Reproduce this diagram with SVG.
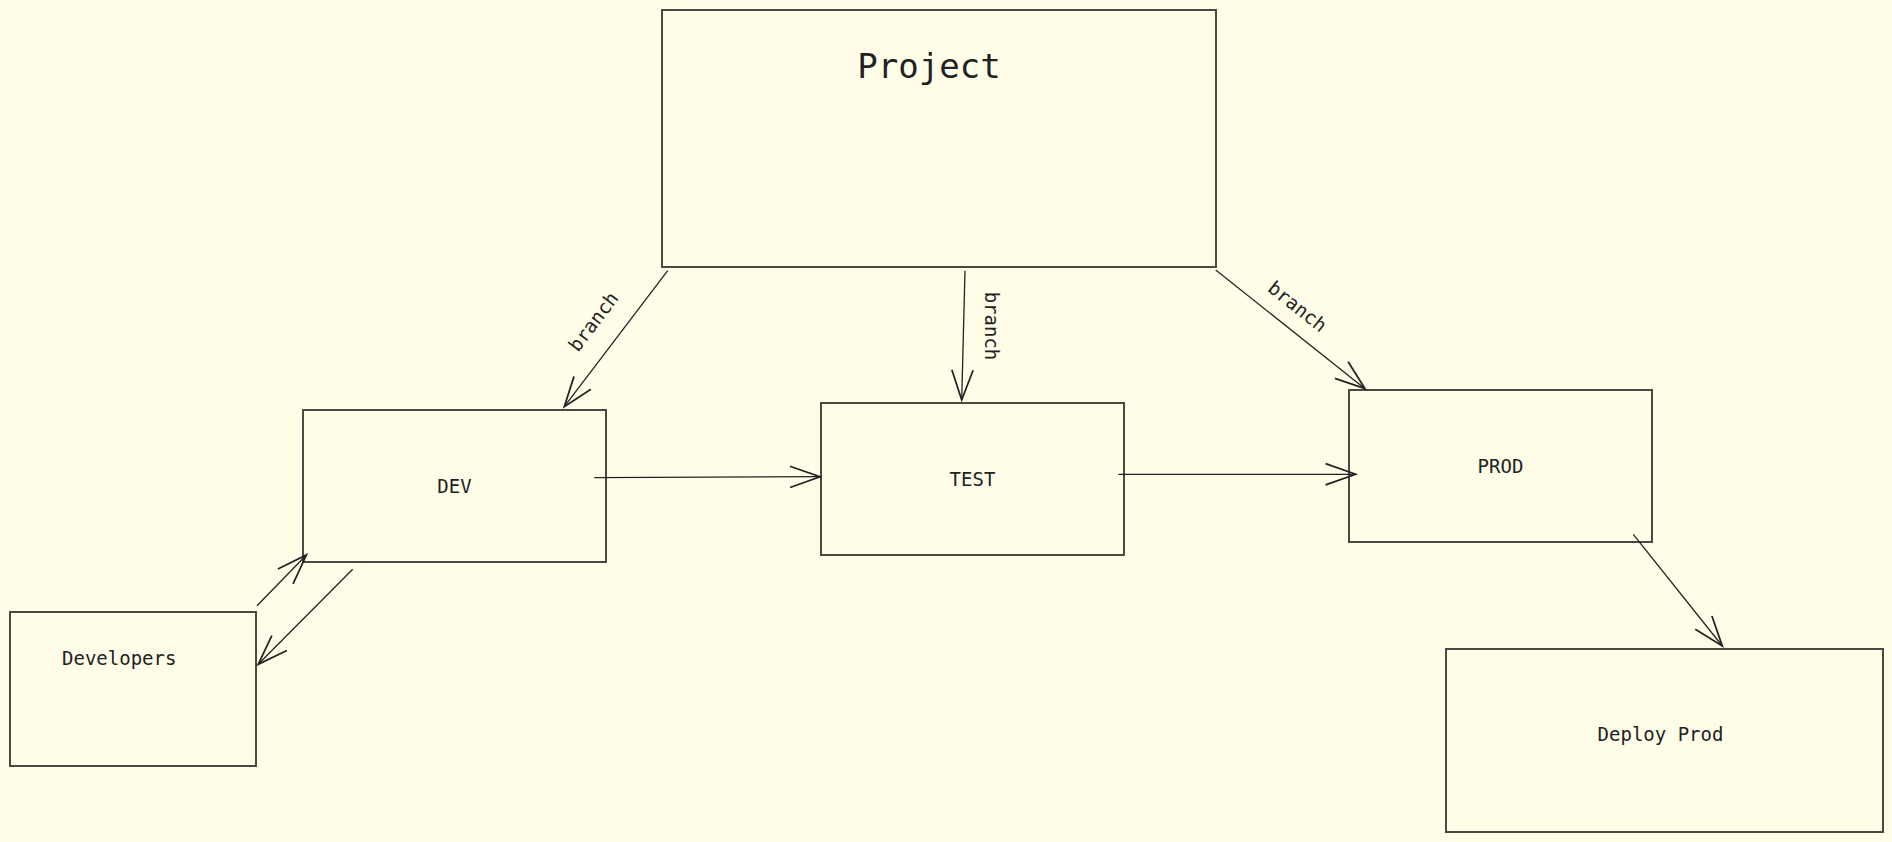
<svg xmlns="http://www.w3.org/2000/svg" width="1892" height="842" viewBox="0 0 1892 842">
<style>
.node{fill:#fffde8;stroke:#4a4a42;stroke-width:2}
.lbl{font-family:"DejaVu Sans Mono","Liberation Mono",monospace;font-size:19px;fill:#222}
.ttl{font-family:"DejaVu Sans Mono","Liberation Mono",monospace;font-size:34px;fill:#222}
.edge{fill:none;stroke:#222;stroke-width:1.3}
.elbl{font-family:"DejaVu Sans Mono","Liberation Mono",monospace;font-size:19px;fill:#222}
</style>
<defs>
<marker id="arr" markerUnits="userSpaceOnUse" markerWidth="40" markerHeight="40" refX="0" refY="0" viewBox="-30 -15 32 30" orient="auto" overflow="visible">
<path d="M-24,-8.5 L0,0 L-24,8.5" fill="none" stroke="#222" stroke-width="1.4"/>
</marker>
</defs>
<rect width="1892" height="842" fill="#fffde8"/>
<g id="project"><rect class="node" x="662" y="10" width="554" height="257"/><text class="ttl" x="929" y="78" text-anchor="middle">Project</text></g>
<g id="dev"><rect class="node" x="303" y="410" width="303" height="152"/><text class="lbl" x="454.5" y="493" text-anchor="middle">DEV</text></g>
<g id="test"><rect class="node" x="821" y="403" width="303" height="152"/><text class="lbl" x="972.5" y="486" text-anchor="middle">TEST</text></g>
<g id="prod"><rect class="node" x="1349" y="390" width="303" height="152"/><text class="lbl" x="1500.5" y="473" text-anchor="middle">PROD</text></g>
<g id="developers"><rect class="node" x="10" y="612" width="246" height="154"/><text class="lbl" x="62" y="665">Developers</text></g>
<g id="deploy"><rect class="node" x="1446" y="649" width="437" height="183"/><text class="lbl" x="1660.5" y="741" text-anchor="middle">Deploy Prod</text></g>
<g id="connectors">
<line class="edge" x1="667.7" y1="270.7" x2="564.3" y2="406.7" marker-end="url(#arr)"/>
<text class="elbl" x="594" y="328" text-anchor="middle" transform="rotate(-52.8 594 322)">branch</text>
<line class="edge" x1="965" y1="270.7" x2="961.7" y2="400" marker-end="url(#arr)"/>
<text class="elbl" x="987" y="336" text-anchor="middle" transform="rotate(90 991 330)">branch</text>
<line class="edge" x1="1215.7" y1="270" x2="1365" y2="388.7" marker-end="url(#arr)"/>
<text class="elbl" x="1297" y="313" text-anchor="middle" transform="rotate(38.5 1297 307)">branch</text>
<line class="edge" x1="594.3" y1="477.7" x2="820" y2="476.7" marker-end="url(#arr)"/>
<line class="edge" x1="1118.4" y1="474.3" x2="1355.6" y2="474.3" marker-end="url(#arr)"/>
<line class="edge" x1="1633.3" y1="534.3" x2="1722.3" y2="646" marker-end="url(#arr)"/>
<line class="edge" x1="257" y1="605.7" x2="306.4" y2="555" marker-end="url(#arr)"/>
<line class="edge" x1="352.7" y1="569.3" x2="258.2" y2="664.3" marker-end="url(#arr)"/>
</g>
</svg>
